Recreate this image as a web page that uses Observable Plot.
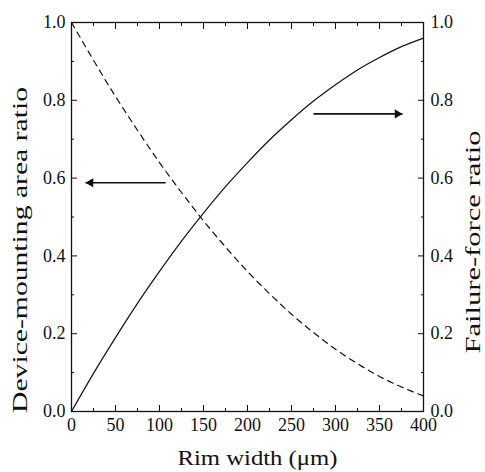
<!DOCTYPE html>
<html><head><meta charset="utf-8">
<script src="https://cdn.jsdelivr.net/npm/d3@7"></script>
<script src="https://cdn.jsdelivr.net/npm/@observablehq/plot@0.6"></script>
<style>body{margin:0;background:#fff}</style>
</head><body><div id="chart"></div>
<script>
const rimWidth = [0,25,50,75,100,125,150,175,200,225,250,275,300,325,350,375,400];
const areaRatio = [1.0,0.903,0.81,0.723,0.64,0.563,0.49,0.423,0.36,0.303,0.25,0.203,0.16,0.123,0.09,0.063,0.04];
const forceRatio = [0.0,0.098,0.19,0.278,0.36,0.438,0.51,0.578,0.64,0.698,0.75,0.798,0.84,0.878,0.91,0.938,0.96];
const xTicks = [0,50,100,150,200,250,300,350,400];
const xMinor = [25,75,125,175,225,275,325,375];
const yTicks = [0,0.2,0.4,0.6,0.8,1.0];
const yMinor = [0.1,0.3,0.5,0.7,0.9];
const xTitle = "Rim width (μm)";
const yLeftTitle = "Device-mounting area ratio";
const yRightTitle = "Failure-force ratio";
// arrow shafts (from x1 to tip x2) pointing at the matching axis
const arrowLeft = [{x1:107, x2:16, y:0.588}];
const arrowRight = [{x1:275, x2:376, y:0.765}];
const areaData = rimWidth.map((w,i)=>({w, v: areaRatio[i]}));
const forceData = rimWidth.map((w,i)=>({w, v: forceRatio[i]}));
const font = "'Liberation Serif', 'Times New Roman', serif";
const fmt = d3.format(".1f");
const titleLengths = {[xTitle]: 160, [yLeftTitle]: 326, [yRightTitle]: 223};
const titleSizes = {[xTitle]: 22, [yLeftTitle]: 22, [yRightTitle]: 20};
const chart = Plot.plot({
  width: 485, height: 472,
  marginLeft: 71, marginRight: 62, marginTop: 22, marginBottom: 61,
  style: {color: "#111", background: "#fff"},
  x: {domain: [0,400]},
  y: {domain: [0,1]},
  marks: [
    Plot.axisX(xTicks, {anchor: "bottom", tickSize: 0, tickPadding: 7, label: null, tickFormat: d => d}),
    Plot.axisX(xTicks, {anchor: "bottom", tickSize: -6, text: null, label: null}),
    Plot.axisX(xMinor, {anchor: "bottom", tickSize: -3, text: null, label: null}),
    Plot.axisX(xTicks, {anchor: "top", tickSize: -6, text: null, label: null}),
    Plot.axisX(xMinor, {anchor: "top", tickSize: -3, text: null, label: null}),
    Plot.axisY(yTicks, {anchor: "left", tickSize: 0, tickPadding: 6, tickFormat: fmt, label: null}),
    Plot.axisY(yTicks, {anchor: "left", tickSize: -6, text: null, label: null}),
    Plot.axisY(yMinor, {anchor: "left", tickSize: -3, text: null, label: null}),
    Plot.axisY(yTicks, {anchor: "right", tickSize: 0, tickPadding: 7, tickFormat: fmt, label: null}),
    Plot.axisY(yTicks, {anchor: "right", tickSize: -6, text: null, label: null}),
    Plot.axisY(yMinor, {anchor: "right", tickSize: -3, text: null, label: null}),
    Plot.text([xTitle], {frameAnchor: "bottom", text: d => d, textAnchor: "middle", lineAnchor: "middle", dx: 10, dy: 46, fill: "#111"}),
    Plot.text([yLeftTitle], {frameAnchor: "left", text: d => d, textAnchor: "middle", lineAnchor: "middle", dx: -52, dy: 33, rotate: -90, fill: "#111"}),
    Plot.text([yRightTitle], {frameAnchor: "right", text: d => d, textAnchor: "middle", lineAnchor: "middle", dx: 50, dy: 25, rotate: -90, fill: "#111"}),
    Plot.frame({stroke: "#111", strokeWidth: 1.3}),
    Plot.line(areaData, {x: "w", y: "v", curve: "natural", stroke: "#111", strokeWidth: 1.2, strokeDasharray: "6,5"}),
    Plot.line(forceData, {x: "w", y: "v", curve: "natural", stroke: "#111", strokeWidth: 1.2}),
    Plot.link(arrowLeft, {x1: "x1", x2: "x2", y1: "y", y2: "y", stroke: "#111", strokeWidth: 1.7}),
    Plot.link(arrowRight, {x1: "x1", x2: "x2", y1: "y", y2: "y", stroke: "#111", strokeWidth: 1.7}),
    Plot.dot(arrowLeft, {x: "x2", y: "y", symbol: "triangle", r: 3.4, fill: "#111", stroke: "none", rotate: -90, dx: 5}),
    Plot.dot(arrowRight, {x: "x2", y: "y", symbol: "triangle", r: 3.4, fill: "#111", stroke: "none", rotate: 90, dx: -5})
  ]
});
chart.querySelectorAll("text").forEach(t => {
  const s = t.textContent;
  t.style.fontFamily = font;
  if (titleLengths[s]) {
    t.style.fontSize = titleSizes[s] + "px";
    t.setAttribute("textLength", titleLengths[s]);
    t.setAttribute("lengthAdjust", "spacingAndGlyphs");
  } else {
    t.style.fontSize = "18px";
  }
});
document.getElementById("chart").appendChild(chart);
</script>
</body></html>
